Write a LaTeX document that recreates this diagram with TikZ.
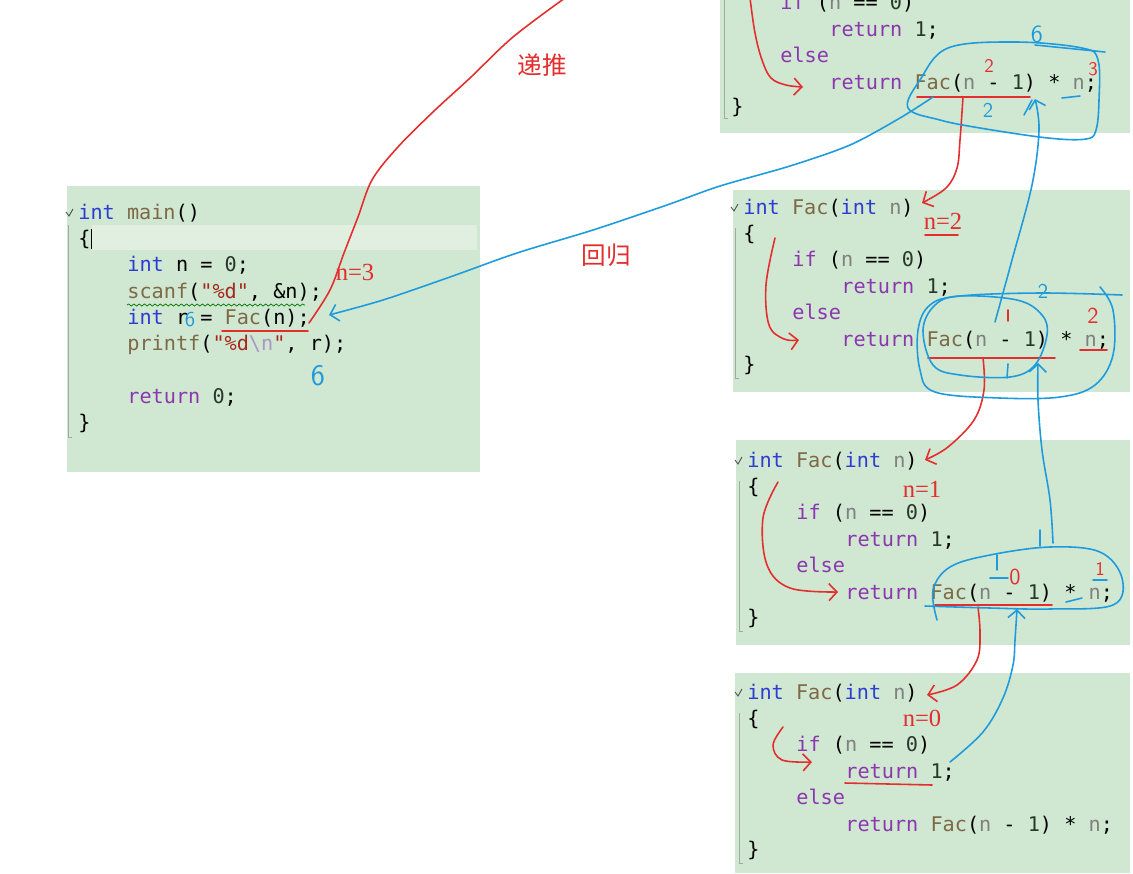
\documentclass[tikz,border=0pt]{standalone}
\usepackage{fontspec}
\setmainfont{Liberation Serif}
\newfontfamily\codefont{DejaVu Sans Mono}
\newfontfamily\cjkfont{Noto Sans CJK SC}
\usetikzlibrary{arrows.meta,decorations.pathmorphing}

\definecolor{panegreen}{RGB}{208,231,209}
\definecolor{panehi}{RGB}{224,239,224}
\definecolor{ckw}{RGB}{45,60,210}
\definecolor{cctl}{RGB}{140,55,175}
\definecolor{cfn}{RGB}{125,105,70}
\definecolor{cprm}{RGB}{128,128,128}
\definecolor{cnum}{RGB}{40,55,40}
\definecolor{cstr}{RGB}{165,40,30}
\definecolor{cesc}{RGB}{170,150,200}
\definecolor{inkred}{RGB}{228,45,45}
\definecolor{inkblue}{RGB}{30,155,220}

\newcommand\tint[1]{\textcolor{ckw}{#1}}
\newcommand\tctl[1]{\textcolor{cctl}{#1}}
\newcommand\tfn[1]{\textcolor{cfn}{#1}}
\newcommand\tprm[1]{\textcolor{cprm}{#1}}
\newcommand\tnum[1]{\textcolor{cnum}{#1}}
\newcommand\tstr[1]{\textcolor{cstr}{#1}}
\newcommand\tesc[1]{\textcolor{cesc}{#1}}

\begin{document}
\begin{tikzpicture}[x=0.02cm, y=-0.02cm,
  code/.style={font=\codefont\fontsize{11.5}{14}\selectfont, inner sep=0pt, anchor=base west},
  guide/.style={draw=black!35, line width=0.4pt},
  redink/.style={draw=inkred, line width=0.9pt, line cap=round, line join=round},
  blueink/.style={draw=inkblue, line width=0.9pt, line cap=round, line join=round},
  hand/.style={-{Straight Barb[length=1.6mm,width=3.4mm]}},
  note/.style={text=inkred, font=\fontsize{14}{14}\selectfont, inner sep=0pt},
  digit/.style={font=\sffamily\fontsize{12}{12}\selectfont, inner sep=0pt}]
  \fill[white] (0,0) rectangle (1133,873);
  \clip (0,0) rectangle (1133,873);

  % panes
  \fill[panegreen] (67,186) rectangle (480,472);
  \fill[panehi] (92,225) rectangle (477,250);
  \fill[panegreen] (720,0) rectangle (1130,133);
  \fill[panegreen] (733,190) rectangle (1130,392);
  \fill[panegreen] (736,440) rectangle (1130,645);
  \fill[panegreen] (735,673) rectangle (1130,873);

  % main()
  \node[code] (m1) at (78,219) {\tint{int} \tfn{main}()};
  \node[code] (m2) at (78,245) {\{};
  \node[code] (m3) at (127,271) {\tint{int} n = \tnum{0};};
  \node[code] (m4) at (127,298) {\tfn{scanf}(\tstr{"\%d"}, \&n);};
  \node[code] (m5) at (127,324) {\tint{int} r = \tfn{Fac}(n);};
  \node[code] (m6) at (127,350) {\tfn{printf}(\tstr{"\%d}\tesc{\textbackslash n}\tstr{"}, r);};
  \node[code] (m7) at (127,403) {\tctl{return} \tnum{0};};
  \node[code] (m8) at (78,429) {\}};
  \draw[guide] (68,225) -- (68,437) -- (72,437);
  \draw[black!70, line width=0.5pt] (66,212) -- (69,216) -- (73,209);
  \draw[black, line width=0.5pt] (91,229) -- (91,249);
  \draw[green!45!black, line width=0.4pt, decorate,
        decoration={snake, amplitude=0.6pt, segment length=3pt}] (127,305) -- (305,305);

  % top pane (cut off)
  \node[code] (t0) at (780,9) {\tctl{if} (\tprm{n} == \tnum{0})};
  \node[code] (t1) at (829,36) {\tctl{return} \tnum{1};};
  \node[code] (t2) at (780,62) {\tctl{else}};
  \node[code] (t3) at (829,89) {\tctl{return} \tfn{Fac}(\tprm{n} - \tnum{1}) * \tprm{n};};
  \node[code] (t4) at (731,113) {\}};
  \draw[guide] (724,0) -- (724,118) -- (728,118);

  % Fac() panes
  \foreach \p/\bx/\by in {b/743/214, c/747/467, d/747/699} {
    \node[code] (\p1) at (\bx,\by) {\tint{int} \tfn{Fac}(\tint{int} \tprm{n})};
    \node[code] (\p2) at (\bx,\by+26) {\{};
    \node[code] (\p3) at (\bx+49,\by+52) {\tctl{if} (\tprm{n} == \tnum{0})};
    \node[code] (\p4) at (\bx+98,\by+79) {\tctl{return} \tnum{1};};
    \node[code] (\p5) at (\bx+49,\by+105) {\tctl{else}};
    \node[code] (\p6) at (\bx+98,\by+132) {\tctl{return} \tfn{Fac}(\tprm{n} - \tnum{1}) * \tprm{n};};
    \node[code] (\p7) at (\bx,\by+157) {\}};
    \draw[guide] (\bx-8,\by+14) -- (\bx-8,\by+164) -- (\bx-4,\by+164);
    \draw[black!70, line width=0.5pt] (\bx-12,\by-7) -- (\bx-9,\by-3) -- (\bx-5,\by-10);
  }

  % 递推 (red)
  \coordinate (pushTop) at (565,-2);
  \coordinate (pushEnd) at (309,323);
  \draw[redink] plot[smooth, tension=0.55] coordinates {(pushTop) (513,37) (470,78)
    (433,112) (397,148) (372,180) (358,217) (344,253) (330,290) (pushEnd)};
  \draw[redink] (222,331) -- (308,331);
  \node[note] (lblPush) at (542,65) {\cjkfont 递推};
  \node[note] (n3) at (355,272) {n=3};

  \coordinate (topIn) at (750,-2);
  \coordinate (topRet) at (803,87);
  \draw[redink, hand] plot[smooth, tension=0.6] coordinates {(topIn) (755,33) (762,60) (771,78) (786,85) (topRet)};
  \draw[redink] (917,97) -- (1030,97);
  \coordinate (callB) at (922,203);
  \draw[redink, hand] plot[smooth, tension=0.6] coordinates {(963,97) (960,140) (957,168) (946,188) (callB)};
  \node[note, font=\sffamily\fontsize{11}{11}\selectfont] (r2a) at (989,66) {2};
  \node[note, font=\sffamily\fontsize{11}{11}\selectfont] (r3a) at (1093,69) {3};

  \node[note] (n2) at (943,221) {n=2};
  \draw[redink] (925,235) -- (958,235);
  \coordinate (retB) at (799,340);
  \draw[redink, hand] plot[smooth, tension=0.6] coordinates {(775,238) (766,285) (769,325) (784,339) (retB)};
  \draw[redink] (928,358) -- (1055,358);
  \coordinate (callC) at (925,460);
  \draw[redink, hand] plot[smooth, tension=0.6] coordinates {(983,358) (984,390) (974,420) (948,447) (callC)};
  \node[note, font=\sffamily\fontsize{13}{13}\selectfont] (r2b) at (1093,316) {2};
  \draw[redink] (1080,350) -- (1107,350);
  \draw[redink] (1008,310) -- (1008,321);

  \node[note] (n1) at (922,489) {n=1};
  \coordinate (retC) at (838,592);
  \draw[redink, hand] plot[smooth, tension=0.6] coordinates {(778,482) (763,518) (767,565) (790,588) (retC)};
  \draw[redink] (935,605) -- (1052,605);
  \coordinate (callD) at (927,695);
  \draw[redink, hand] plot[smooth, tension=0.6] coordinates {(978,607) (980,633) (977,660) (957,685) (callD)};
  \node[note, font=\sffamily\fontsize{13}{13}\selectfont] (r0c) at (1015,577) {0};
  \node[note, font=\sffamily\fontsize{11}{11}\selectfont] (r1c) at (1100,569) {1};

  \node[note] (n0) at (922,718) {n=0};
  \coordinate (retD) at (812,762);
  \draw[redink, hand] plot[smooth, tension=0.6] coordinates {(783,727) (773,745) (782,760) (retD)};
  \draw[redink] (845,783) -- (932,785);

  % 回归 (blue)
  \node[note] (lblBack) at (606,255) {\cjkfont 回归};
  \coordinate (backTop) at (933,97);
  \coordinate (backMain) at (329,315);
  \draw[blueink, hand] plot[smooth, tension=0.5] coordinates {(backTop) (900,118) (850,145) (790,166)
    (720,186) (667,205) (593,230) (517,253) (450,277) (383,300) (backMain)};
  \node[digit, text=inkblue] (b6a) at (190,320) {6};
  \node[digit, text=inkblue, font=\sffamily\fontsize{17}{17}\selectfont] (b6b) at (318,376) {6};

  % loops
  \draw[blueink] plot[smooth cycle, tension=0.6] coordinates {(908,108) (920,80) (948,48) (1015,42)
    (1082,48) (1098,60) (1099,100) (1096,130) (1086,139) (1048,138) (980,128) (940,120)};
  \draw[blueink] (1035,45) -- (1105,52);
  \node[digit, text=inkblue, font=\sffamily\fontsize{14}{14}\selectfont] (b6c) at (1037,34) {6};
  \node[digit, text=inkblue] (b2c) at (988,110) {2};
  \draw[blueink] (1024,115) -- (1032,100);
  \draw[blueink] (1062,98) -- (1080,96);
  \coordinate (upB) at (995,322);
  \draw[blueink, hand] plot[smooth, tension=0.6] coordinates {(upB) (1012,260) (1032,185) (1039,130) (1035,99)};

  \draw[blueink] plot[smooth cycle, tension=0.6] coordinates {(923,330) (935,305) (960,296) (1017,300)
    (1042,315) (1047,335) (1035,365) (1010,377) (960,375) (933,365)};
  \draw[blueink] plot[smooth, tension=0.6] coordinates {(1122,295) (1040,293) (960,296) (930,305)
    (918,330) (920,370) (935,392) (1000,398) (1060,397) (1095,385) (1113,355) (1113,310) (1100,287)};
  \draw[blueink] (1008,364) -- (1007,378);
  \node[digit, text=inkblue] (b2b) at (1043,291) {2};
  \coordinate (upC) at (1053,543);
  \draw[blueink, hand] plot[smooth, tension=0.6] coordinates {(upC) (1050,500) (1042,450) (1038,400) (1038,363)};

  \draw[blueink] plot[smooth, tension=0.6] coordinates {(937,620) (933,590) (950,567) (990,555)
    (1050,547) (1100,552) (1122,578) (1113,605) (1050,609) (990,608) (925,606)};
  \draw[blueink] (1040,530) -- (1040,546);
  \draw[blueink] (997,555) -- (997,570);
  \draw[blueink] (990,578) -- (1008,578);
  \draw[blueink] (1093,580) -- (1107,580);
  \draw[blueink] (1066,602) -- (1082,598);
  \coordinate (retOne) at (950,762);
  \draw[blueink, hand] plot[smooth, tension=0.6] coordinates {(retOne) (983,732) (1003,698) (1013,665)
    (1015,640) (1017,609)};
\end{tikzpicture}
\end{document}
